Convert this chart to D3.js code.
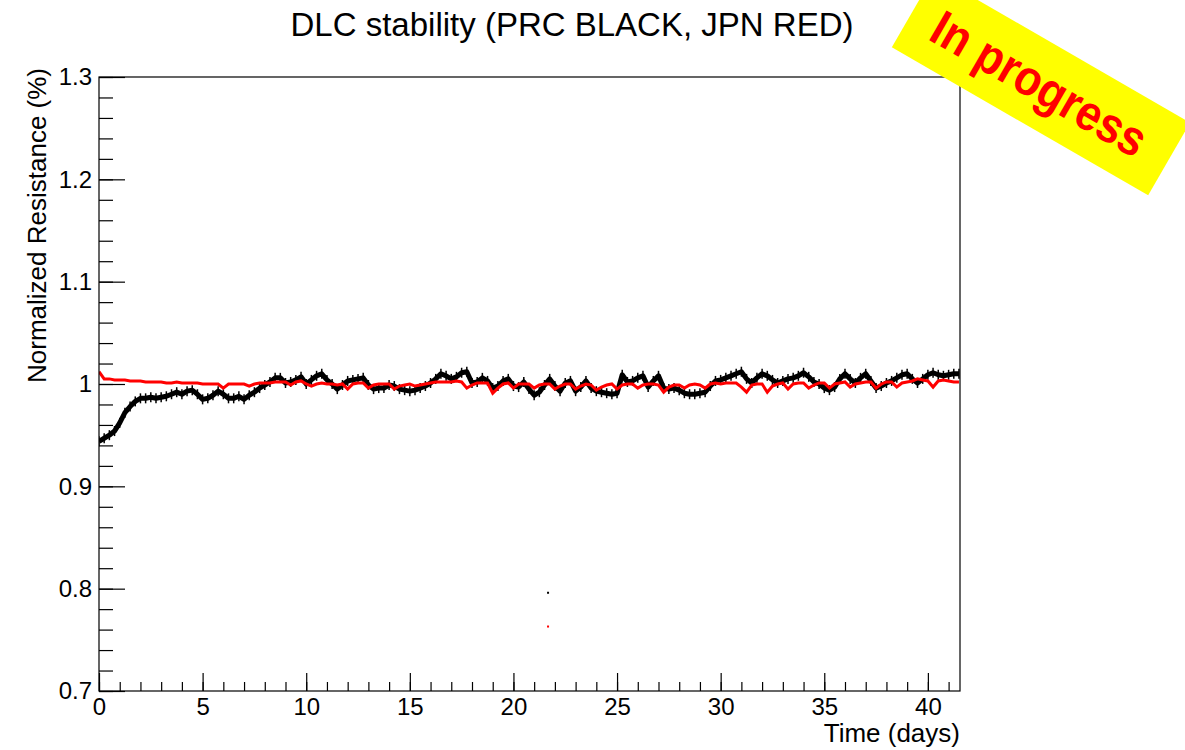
<!DOCTYPE html>
<html>
<head>
<meta charset="utf-8">
<script src="https://cdn.jsdelivr.net/npm/d3@7"></script>
<style>
  body { margin: 0; background: #fff; }
  text { font-family: "Liberation Sans", Arial, sans-serif; }
</style>
</head>
<body>
<div id="plot"></div>
<script>

// DLC stability plot, two resistance series

// Time axis (days) shared by both series
var timeDays = [
  0, 0.25, 0.5, 0.75, 1, 1.25, 1.5, 1.75, 2, 2.25, 2.5, 2.75, 3, 3.25, 3.5, 3.75,
  4, 4.25, 4.5, 4.75, 5, 5.25, 5.5, 5.75, 6, 6.25, 6.5, 6.75, 7, 7.25, 7.5, 7.75,
  8, 8.25, 8.5, 8.75, 9, 9.25, 9.5, 9.75, 10, 10.25, 10.5, 10.75, 11, 11.25, 11.5, 11.75,
  12, 12.25, 12.5, 12.75, 13, 13.25, 13.5, 13.75, 14, 14.25, 14.5, 14.75, 15, 15.25, 15.5, 15.75,
  16, 16.25, 16.5, 16.75, 17, 17.25, 17.5, 17.75, 18, 18.25, 18.5, 18.75, 19, 19.25, 19.5, 19.75,
  20, 20.25, 20.5, 20.75, 21, 21.25, 21.5, 21.75, 22, 22.25, 22.5, 22.75, 23, 23.25, 23.5, 23.75,
  24, 24.25, 24.5, 24.75, 25, 25.25, 25.5, 25.75, 26, 26.25, 26.5, 26.75, 27, 27.25, 27.5, 27.75,
  28, 28.25, 28.5, 28.75, 29, 29.25, 29.5, 29.75, 30, 30.25, 30.5, 30.75, 31, 31.25, 31.5, 31.75,
  32, 32.25, 32.5, 32.75, 33, 33.25, 33.5, 33.75, 34, 34.25, 34.5, 34.75, 35, 35.25, 35.5, 35.75,
  36, 36.25, 36.5, 36.75, 37, 37.25, 37.5, 37.75, 38, 38.25, 38.5, 38.75, 39, 39.25, 39.5, 39.75,
  40, 40.25, 40.5, 40.75, 41, 41.25, 41.5
];

// PRC (black)
var prcValues = [
  0.944, 0.947, 0.950, 0.954, 0.962, 0.972, 0.978, 0.983, 0.986, 0.986, 0.987, 0.986, 0.987, 0.988, 0.990, 0.992,
  0.990, 0.993, 0.994, 0.990, 0.985, 0.986, 0.989, 0.993, 0.990, 0.986, 0.986, 0.988, 0.985, 0.989, 0.992, 0.996,
  0.999, 1.002, 1.006, 1.006, 1.001, 1.002, 1.004, 1.007, 1.000, 1.004, 1.008, 1.010, 1.004, 1.000, 0.995, 0.999,
  1.003, 1.004, 1.005, 1.006, 0.999, 0.995, 0.996, 0.996, 0.999, 0.998, 0.995, 0.994, 0.993, 0.994, 0.996, 0.998,
  1.001, 1.005, 1.010, 1.008, 1.005, 1.007, 1.011, 1.012, 1.001, 1.002, 1.006, 1.003, 0.996, 0.998, 1.003, 1.005,
  0.998, 0.997, 1.002, 0.995, 0.989, 0.992, 0.999, 1.005, 0.998, 0.993, 1.001, 1.003, 0.993, 0.997, 1.003, 0.996,
  0.993, 0.992, 0.991, 0.990, 0.991, 1.009, 1.002, 1.003, 1.006, 1.008, 0.997, 1.003, 1.008, 0.996, 0.995, 0.996,
  0.994, 0.991, 0.990, 0.990, 0.991, 0.992, 0.998, 1.003, 1.004, 1.006, 1.008, 1.010, 1.012, 1.005, 1.001, 1.006,
  1.010, 1.008, 1.004, 1.001, 1.003, 1.005, 1.006, 1.008, 1.011, 1.007, 1.002, 1.000, 0.996, 0.994, 0.997, 1.005,
  1.010, 1.005, 1.001, 1.006, 1.010, 1.003, 0.996, 0.998, 1.001, 1.003, 1.006, 1.009, 1.010, 1.005, 1.001, 1.005,
  1.009, 1.011, 1.009, 1.008, 1.009, 1.010, 1.010
];

// JPN (red)
var jpnValues = [
  1.012, 1.005, 1.005, 1.004, 1.004, 1.004, 1.003, 1.003, 1.003, 1.002, 1.002, 1.002, 1.002, 1.001, 1.001, 1.002,
  1.001, 1.001, 1.001, 1.001, 1.000, 1.000, 1.000, 1.000, 0.996, 1.000, 1.000, 1.000, 1.000, 0.998, 1.000, 1.001,
  1.001, 1.001, 1.002, 1.002, 1.002, 0.999, 1.002, 1.003, 1.000, 0.998, 1.000, 1.001, 1.000, 1.000, 0.999, 1.000,
  0.995, 1.000, 1.001, 1.001, 0.996, 0.999, 1.000, 1.000, 1.000, 0.995, 0.998, 0.999, 1.000, 0.998, 0.999, 1.000,
  1.001, 1.002, 1.002, 1.002, 1.002, 1.003, 1.002, 0.996, 0.999, 1.001, 1.001, 1.001, 0.991, 0.996, 1.000, 1.001,
  0.996, 1.000, 1.000, 1.000, 0.996, 0.999, 1.000, 1.000, 0.995, 0.998, 1.000, 1.000, 0.995, 0.998, 1.000, 0.999,
  0.994, 0.997, 0.999, 1.000, 0.995, 0.999, 1.000, 1.000, 0.996, 0.999, 1.000, 1.000, 0.999, 0.992, 0.997, 0.999,
  0.999, 0.996, 0.999, 1.000, 0.999, 0.996, 1.000, 1.001, 1.000, 1.001, 1.001, 1.001, 0.997, 0.992, 0.999, 1.000,
  1.000, 0.992, 0.998, 1.000, 1.001, 0.995, 1.000, 1.001, 1.001, 0.996, 0.999, 1.001, 1.001, 0.996, 1.000, 1.001,
  1.002, 0.997, 1.000, 1.001, 1.002, 1.002, 0.996, 1.000, 1.002, 1.002, 0.997, 1.001, 1.002, 1.003, 1.005, 1.004,
  1.003, 0.997, 1.003, 1.004, 1.003, 1.002, 1.002
];

// Lone outlier points near day 21.7
var prcOutliers = [[21.67, 0.796]];
var jpnOutliers = [[21.67, 0.763]];

// Axis setup
var xDomain = [0, 41.55];
var yDomain = [0.7, 1.3];
var yMajorTicks = [0.7, 0.8, 0.9, 1.0, 1.1, 1.2, 1.3];
var xMajorTicks = [0, 5, 10, 15, 20, 25, 30, 35, 40];

var titleText = "DLC stability (PRC BLACK, JPN RED)";
var xTitle = "Time (days)";
var yTitle = "Normalized Resistance (%)";
var bannerText = "In progress";


class StabilityPlot {

    constructor(divid, width, height) {
        this.width = width || 1185;
        this.height = height || 750;
        this.divid = divid || "#plot";

        // Frame corners (pixels)
        this.left = 99;
        this.right = 960;
        this.top = 77;
        this.bottom = 691;

        this.svg = d3.select(this.divid).append("svg")
          .attr("width", this.width)
          .attr("height", this.height);

        this.x = d3.scaleLinear().domain(xDomain).range([this.left, this.right]);
        this.y = d3.scaleLinear().domain(yDomain).range([this.bottom, this.top]);

        this.drawSeries();
        this.drawAxes();
        this.drawTitles();
        this.drawBanner();
    }

    // The two resistance traces
    drawSeries() {
        var x = this.x, y = this.y;

        this.svg.append("clipPath").attr("id", "frame-clip")
          .append("rect")
          .attr("x", this.left).attr("y", this.top)
          .attr("width", this.right - this.left)
          .attr("height", this.bottom - this.top);

        var line = d3.line()
          .x(function(d) { return x(d[0]); })
          .y(function(d) { return y(d[1]); });

        var prc = d3.zip(timeDays, prcValues);
        var jpn = d3.zip(timeDays, jpnValues);

        var g = this.svg.append("g").attr("clip-path", "url(#frame-clip)");

        g.append("path")
          .datum(prc)
          .attr("d", line)
          .attr("fill", "none")
          .attr("stroke", "#000")
          .attr("stroke-width", 5)
          .attr("stroke-linejoin", "round");

        // little vertical bars so the black trace looks as fuzzy as the scan
        g.selectAll(".prc-bar").data(prc).enter().append("line")
          .attr("x1", function(d) { return x(d[0]); })
          .attr("x2", function(d) { return x(d[0]); })
          .attr("y1", function(d) { return y(d[1]) - 5; })
          .attr("y2", function(d) { return y(d[1]) + 5; })
          .attr("stroke", "#000")
          .attr("stroke-width", 1.5);

        g.append("path")
          .datum(jpn)
          .attr("d", line)
          .attr("fill", "none")
          .attr("stroke", "#ff0000")
          .attr("stroke-width", 3);

        // stray single points
        g.selectAll(".prc-out").data(prcOutliers).enter().append("rect")
          .attr("x", function(d) { return x(d[0]) - 1; })
          .attr("y", function(d) { return y(d[1]) - 1; })
          .attr("width", 2).attr("height", 2).attr("fill", "#000");
        g.selectAll(".jpn-out").data(jpnOutliers).enter().append("rect")
          .attr("x", function(d) { return x(d[0]) - 1; })
          .attr("y", function(d) { return y(d[1]) - 1; })
          .attr("width", 2).attr("height", 2).attr("fill", "#ff0000");
    }

    // ROOT style frame with ticks pointing inwards
    drawAxes() {
        var svg = this.svg;

        svg.append("rect")
          .attr("x", this.left).attr("y", this.top)
          .attr("width", this.right - this.left)
          .attr("height", this.bottom - this.top)
          .attr("fill", "none")
          .attr("stroke", "#000")
          .attr("stroke-width", 1.2);

        var xMinor = d3.range(0, 42, 1);
        var yMinor = d3.range(0, 31).map(function(i) { return +(0.7 + i * 0.02).toFixed(2); });

        // minor ticks first, no labels
        svg.append("g")
          .attr("transform", "translate(0," + this.bottom + ")")
          .call(d3.axisBottom(this.x).tickValues(xMinor).tickSize(-9).tickFormat(""))
          .call(function(g) { g.select(".domain").remove(); });

        svg.append("g")
          .attr("transform", "translate(" + this.left + ",0)")
          .call(d3.axisLeft(this.y).tickValues(yMinor).tickSize(-14).tickFormat(""))
          .call(function(g) { g.select(".domain").remove(); });

        // major ticks with labels
        var xAxis = svg.append("g")
          .attr("transform", "translate(0," + this.bottom + ")")
          .call(d3.axisBottom(this.x).tickValues(xMajorTicks).tickSize(-18).tickPadding(7));
        xAxis.select(".domain").remove();

        var yAxis = svg.append("g")
          .attr("transform", "translate(" + this.left + ",0)")
          .call(d3.axisLeft(this.y).tickValues(yMajorTicks).tickSize(-26).tickPadding(7)
            .tickFormat(function(d) { return String(+d.toFixed(1)); }));
        yAxis.select(".domain").remove();

        svg.selectAll(".tick line").attr("stroke", "#000").attr("stroke-width", 1.2);
        svg.selectAll(".tick text")
          .attr("font-family", "Liberation Sans, Arial, sans-serif")
          .attr("font-size", 24)
          .attr("fill", "#000");
    }

    drawTitles() {
        this.svg.append("text")
          .attr("x", 572).attr("y", 36)
          .attr("text-anchor", "middle")
          .attr("font-size", 33)
          .text(titleText);

        this.svg.append("text")
          .attr("x", this.right).attr("y", 742)
          .attr("text-anchor", "end")
          .attr("font-size", 26)
          .text(xTitle);

        this.svg.append("text")
          .attr("transform", "translate(46,68) rotate(-90)")
          .attr("text-anchor", "end")
          .attr("font-size", 26)
          .text(yTitle);
    }

    // Yellow "In progress" sticker over the top right corner
    drawBanner() {
        var b = this.svg.append("g")
          .attr("transform", "translate(1041,85) rotate(30)");

        b.append("rect")
          .attr("x", -148).attr("y", -42)
          .attr("width", 296).attr("height", 84)
          .attr("fill", "#ffff00");

        b.append("text")
          .attr("x", -2).attr("y", 0)
          .attr("text-anchor", "middle")
          .attr("dominant-baseline", "central")
          .attr("font-family", "Lato, 'Open Sans', sans-serif")
          .attr("font-weight", "bold")
          .attr("font-size", 50)
          .attr("fill", "#ff0000")
          .attr("textLength", 240)
          .attr("lengthAdjust", "spacingAndGlyphs")
          .text(bannerText);
    }
}

var plot = new StabilityPlot("#plot", 1185, 750);

</script>
</body>
</html>
